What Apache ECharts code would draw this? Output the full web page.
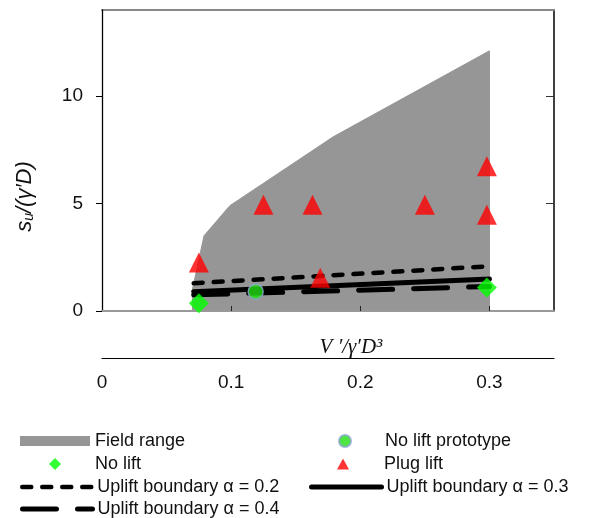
<!DOCTYPE html>
<html>
<head>
<meta charset="utf-8">
<script src="https://cdn.jsdelivr.net/npm/echarts@6/dist/echarts.min.js"></script>
<style>
  html, body { margin: 0; padding: 0; background: #fff; }
  #chart { width: 597px; height: 518px; }
</style>
</head>
<body>
<div id="chart"></div>
<script>
// Field range outline (upper boundary, closed down to zero)
const fieldRangeX = [0.07, 0.07, 0.079, 0.099, 0.179, 0.3, 0.3];
const fieldRangeY = [0, 1.0, 3.5, 4.9, 8.1, 12.1, 0];

// Test results
const plugLiftX = [0.075, 0.125, 0.163, 0.169, 0.25, 0.298, 0.298];
const plugLiftY = [2.26, 4.94, 4.94, 1.55, 4.94, 6.73, 4.48];
const noLiftX = [0.075, 0.298];
const noLiftY = [0.36, 1.09];
const prototypeX = [0.119];
const prototypeY = [0.9];

// Uplift boundaries for three values of alpha
const boundaryX = [0.071, 0.3];
const alpha02 = [1.29, 2.08];
const alpha03 = [0.90, 1.49];
const alpha04 = [0.75, 1.14];

// Axis ticks
const xTicks = [0, 0.1, 0.2, 0.3];
const yTicks = [0, 5, 10];

const pairs = (xs, ys) => xs.map((x, i) => [x, ys[i]]);

const FONT = 'Liberation Sans';
const GRAY = '#969696';

function legendItem(name, left, centerY, w, h, padLeft, hideSymbol) {
  const item = {
    show: true,
    data: [name],
    left: left,
    top: centerY - 10,
    orient: 'vertical',
    itemWidth: w,
    itemHeight: h,
    padding: 0,
    selectedMode: false,
    lineStyle: { width: 'inherit', type: 'inherit', cap: 'inherit' },
    textStyle: {
      fontFamily: FONT, fontSize: 18, color: '#111', lineHeight: 20,
      padding: [0, 0, 0, padLeft || 0]
    }
  };
  if (hideSymbol) {
    item.itemStyle = { color: 'rgba(0,0,0,0)', borderWidth: 0 };
  }
  return item;
}

const chart = echarts.init(document.getElementById('chart'), null, { renderer: 'canvas' });

chart.setOption({
  animation: false,
  backgroundColor: '#fff',
  grid: { left: 102, right: 43, top: 10, bottom: 207, containLabel: false },
  xAxis: [
    {
      type: 'value', min: 0, max: 0.35, position: 'bottom', z: 2,
      axisLine: { show: true, onZero: false, lineStyle: { color: '#999', width: 2 } },
      axisTick: { show: true, inside: true, length: 5, customValues: [0.1, 0.2, 0.3],
        lineStyle: { color: '#222', width: 1 } },
      axisLabel: { show: false },
      splitLine: { show: false }
    },
    {
      type: 'value', min: 0, max: 0.35, position: 'bottom', offset: 47,
      axisLine: { show: true, onZero: false, lineStyle: { color: '#000', width: 1.2 } },
      axisTick: { show: false },
      axisLabel: { show: true, customValues: xTicks, margin: 15,
        fontFamily: FONT, fontSize: 19, color: '#111' },
      splitLine: { show: false },
      name: 'V \u2032/\u03B3\u2032D\u00B3',
      nameLocation: 'middle',
      nameGap: -21,
      nameMoveOverlap: false,
      nameTextStyle: { fontFamily: 'Liberation Serif', fontStyle: 'italic', fontSize: 21,
        color: '#111', padding: [0, 0, 0, 46] }
    },
    {
      type: 'value', min: 0, max: 0.35, position: 'top',
      axisLine: { show: true, onZero: false, lineStyle: { color: '#888', width: 2 } },
      axisTick: { show: false }, axisLabel: { show: false }, splitLine: { show: false }
    }
  ],
  yAxis: [
    {
      type: 'value', min: 0, max: 14, position: 'left', z: 2,
      axisLine: { show: true, onZero: false, lineStyle: { color: '#000', width: 1.3 } },
      axisTick: { show: true, inside: false, length: 6, customValues: yTicks,
        lineStyle: { color: '#000', width: 1 } },
      axisLabel: { show: true, customValues: yTicks, margin: 19,
        fontFamily: FONT, fontSize: 19, color: '#111' },
      splitLine: { show: false },
      name: '{s|s}{u|u}{s|/(\u03B3\u2032D)}',
      nameLocation: 'middle',
      nameRotate: 90,
      nameGap: 66,
      nameMoveOverlap: false,
      nameTextStyle: {
        padding: [0, 72, 0, 0],
        rich: {
          s: { fontFamily: FONT, fontStyle: 'italic', fontSize: 22, lineHeight: 26,
            verticalAlign: 'bottom', color: '#111' },
          u: { fontFamily: FONT, fontStyle: 'italic', fontSize: 14, lineHeight: 8,
            verticalAlign: 'bottom', color: '#111' }
        }
      }
    },
    {
      type: 'value', min: 0, max: 14, position: 'right',
      axisLine: { show: true, onZero: false, lineStyle: { color: '#000', width: 1.5 } },
      axisTick: { show: true, inside: true, length: 8, customValues: yTicks,
        lineStyle: { color: '#333', width: 1 } },
      axisLabel: { show: false },
      splitLine: { show: false }
    }
  ],
  legend: [
    Object.assign(legendItem('Field range', 20, 441, 70, 10), {
      data: [{ name: 'Field range', icon: 'rect', itemStyle: { color: GRAY } }]
    }),
    legendItem('No lift', 49, 464, 12, 12, 29),
    legendItem('Uplift boundary \u03B1 = 0.2', 20, 487, 70, 4, 0, true),
    legendItem('Uplift boundary \u03B1 = 0.4', 20, 509, 70, 5, 0, true),
    legendItem('No lift prototype', 338, 441, 12, 12, 29),
    legendItem('Plug lift', 337, 464, 12, 11, 30),
    legendItem('Uplift boundary \u03B1 = 0.3', 309, 487, 70, 5, 0, true)
  ],
  series: [
    {
      name: 'Field range', type: 'line', z: 1,
      data: pairs(fieldRangeX, fieldRangeY),
      symbol: 'none', silent: true,
      color: GRAY,
      lineStyle: { color: GRAY, width: 1 },
      areaStyle: { color: GRAY, opacity: 1 }
    },
    {
      name: 'Uplift boundary \u03B1 = 0.2', type: 'line', z: 3,
      data: pairs(boundaryX, alpha02), symbol: 'none', color: '#000',
      lineStyle: { color: '#000', width: 4.5, type: [9, 11], cap: 'round' }
    },
    {
      name: 'Uplift boundary \u03B1 = 0.3', type: 'line', z: 3,
      data: pairs(boundaryX, alpha03), symbol: 'none', color: '#000',
      lineStyle: { color: '#000', width: 5, type: 'solid', cap: 'round' }
    },
    {
      name: 'Uplift boundary \u03B1 = 0.4', type: 'line', z: 3,
      data: pairs(boundaryX, alpha04), symbol: 'none', color: '#000',
      lineStyle: { color: '#000', width: 5, type: [34, 21], cap: 'round' }
    },
    {
      name: 'Plug lift', type: 'scatter', z: 4,
      data: pairs(plugLiftX, plugLiftY),
      symbol: 'triangle', symbolSize: 20,
      itemStyle: { color: '#ff0000' }
    },
    {
      name: 'No lift', type: 'scatter', z: 4,
      data: pairs(noLiftX, noLiftY),
      symbol: 'diamond', symbolSize: 20,
      itemStyle: { color: '#00ff00' }
    },
    {
      name: 'No lift prototype', type: 'scatter', z: 4,
      data: pairs(prototypeX, prototypeY),
      symbol: 'circle', symbolSize: 15,
      itemStyle: { color: '#22dd11', borderColor: '#8ba7d0', borderWidth: 1.5 }
    }
  ]
});
</script>
</body>
</html>
